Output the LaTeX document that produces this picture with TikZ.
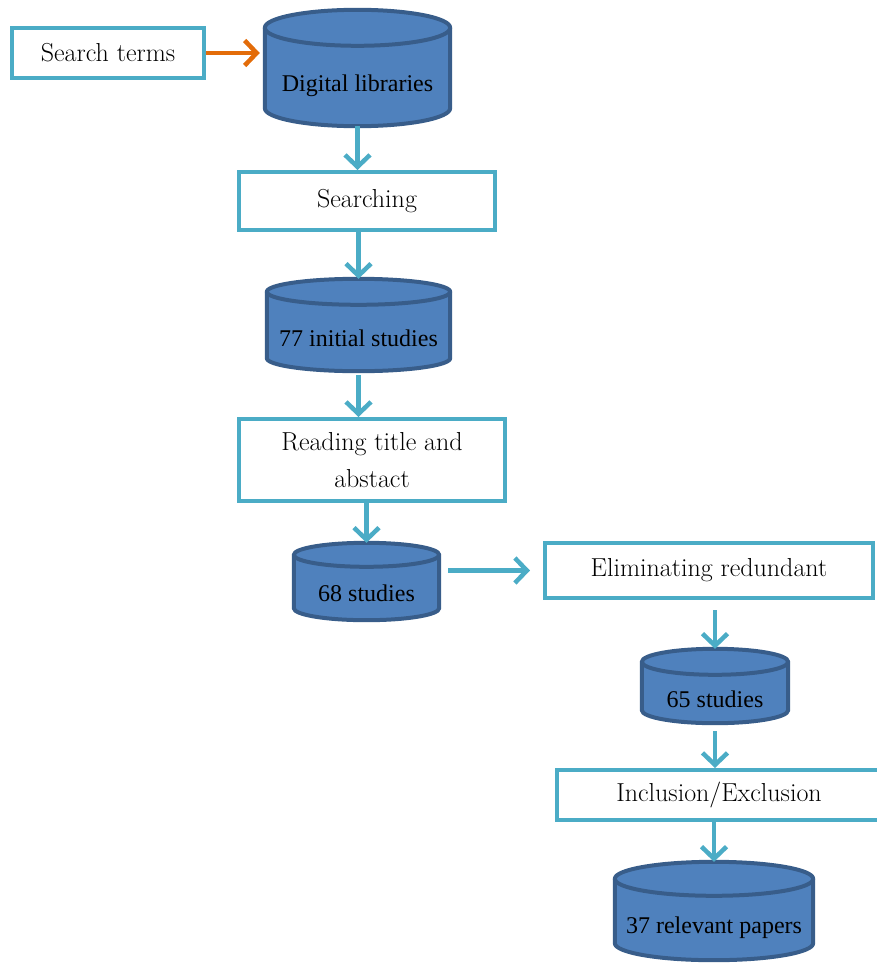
\documentclass[tikz,border=0pt]{standalone}
\usepackage{fontspec}
\newfontfamily\cylfont{Liberation Serif}
\usetikzlibrary{calc,arrows.meta}

\definecolor{boxblue}{HTML}{4BACC6}
\definecolor{dbfill}{HTML}{4F81BD}
\definecolor{dbedge}{HTML}{385D8A}
\definecolor{termorange}{HTML}{E36C09}

\tikzset{
  stepbox/.style={draw=boxblue, line width=4pt, fill=white, inner sep=0pt,
    font=\fontsize{26}{37}\selectfont, align=center},
  dbbox/.style={inner sep=0pt},
  dbdraw/.style={draw=dbedge, fill=dbfill, line width=4pt, line join=round},
  dbtext/.style={font=\cylfont\fontsize{24}{28}\selectfont, inner sep=0pt},
  flow/.style={draw=boxblue, line width=4.5pt, -{Straight Barb[length=12pt,width=25pt]}},
  termflow/.style={draw=termorange, line width=4.5pt, -{Straight Barb[length=12pt,width=25pt]}}
}

% drum shape over the named box #1, ellipse radius #2 (pt), label #3
\newcommand{\drum}[3]{%
  \filldraw[dbdraw] let \p1=(#1.north west), \p2=(#1.south east), \n1={(\x2-\x1)/2} in
    (\x1,\y1-#2pt) -- (\x1,\y2+#2pt)
    arc[start angle=180, end angle=360, x radius=\n1, y radius=#2pt]
    -- (\x2,\y1-#2pt)
    arc[start angle=0, end angle=180, x radius=\n1, y radius=#2pt] -- cycle;
  \draw[dbdraw, fill=none] let \p1=(#1.north west), \p2=(#1.south east), \n1={(\x2-\x1)/2} in
    (\x1,\y1-#2pt) arc[start angle=180, end angle=360, x radius=\n1, y radius=#2pt];
  \node[dbtext] (#1text) at ([yshift=-#2pt]#1.center){#3};
}

\begin{document}
\begin{tikzpicture}[x=1pt,y=-1pt]
  \useasboundingbox (0,0) rectangle (877,964);
 \node[stepbox, minimum width=192, minimum height=50] (terms) at (108,53){Search terms};
 \node[dbbox, minimum width=185, minimum height=116] (diglib) at (357.5,68){};
 \drum{diglib}{18}{Digital libraries}
 \node[stepbox, minimum width=256, minimum height=58] (search) at (367,201){Searching};
 \node[dbbox, minimum width=183, minimum height=92] (init) at (358.5,325){};
 \drum{init}{13}{77 initial studies}
 \node[stepbox, minimum width=266, minimum height=82] (read) at (372,460){Reading title and\\abstact};
 \node[dbbox, minimum width=145, minimum height=77] (after) at (366.5,581.5){};
 \drum{after}{12}{68 studies}
 \node[stepbox, minimum width=328, minimum height=55] (redund) at (709,570.5){Eliminating redundant};
 \node[dbbox, minimum width=146, minimum height=74] (unique) at (715,686){};
 \drum{unique}{13}{65 studies}
 \node[stepbox, minimum width=325, minimum height=50] (incl) at (719,795){Inclusion/Exclusion};
 \node[dbbox, minimum width=198, minimum height=98] (final) at (714,911){};
 \drum{final}{17}{37 relevant papers}
% arrows between the steps
 \draw[termflow, shorten >=5pt] (terms) -- (diglib.west |- terms.east);
 \draw[flow] (diglib.south) -- (diglib.south |- search.north);
 \draw[flow] (search.south -| init.north) -- (init.north);
 \draw[flow, shorten <=4pt] (init.south) -- (init.south |- read.north);
 \draw[flow] (read.south -| after.north) -- (after.north);
 \draw[flow, shorten <=9pt, shorten >=13pt] (after.east |- redund.west) -- (redund.west);
 \draw[flow, shorten <=10pt] (redund.south -| unique.north) -- (unique.north);
 \draw[flow, shorten <=8pt] (unique.south) -- (unique.south |- incl.north);
 \draw[flow] (incl.south -| final.north) -- (final.north);
\end{tikzpicture}
\end{document}
